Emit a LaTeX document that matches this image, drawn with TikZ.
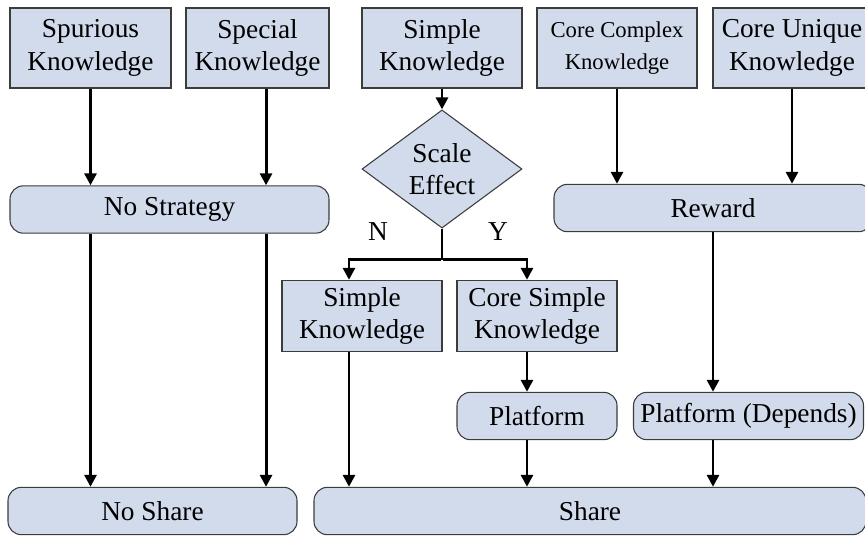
\documentclass[tikz,border=0pt]{standalone}
\usepackage{fontspec}
\setmainfont{Liberation Serif}
\usetikzlibrary{shapes.geometric,arrows.meta}
\definecolor{relleno}{RGB}{209,219,236}
\definecolor{borde}{RGB}{60,60,60}
\tikzset{
    caja/.style={draw=borde,fill=relleno,line width=.8pt,align=center,
        inner sep=0pt,minimum height=60pt},
    redondeada/.style={caja,rounded corners=10pt,minimum height=35.5pt},
    rombo/.style={caja,diamond,minimum width=120pt,minimum height=70.5pt},
    flecha/.style={line width=2.2pt,-{Triangle[length=9pt,width=9pt]}},
    linea/.style={line width=2.2pt}
}
\begin{document}
\begin{tikzpicture}[x=.75pt,y=-.75pt,
    every node/.style={font=\fontsize{20.5}{24.5}\selectfont}]
    \useasboundingbox (0,0) rectangle (865,536);
    % Fila superior: tipos de conocimiento.
    \node[caja,minimum width=120.75pt] (esp) at (90.5,48) {Spurious\\Knowledge};
    \node[caja,minimum width=107.25pt] (espe) at (257.5,48) {Special\\Knowledge};
    \node[caja,minimum width=120pt] (sim) at (442,48) {Simple\\Knowledge};
    \node[caja,minimum width=120pt,font=\fontsize{17}{24.5}\selectfont] (cc) at (617,48)
        {Core Complex\\Knowledge};
    \node[caja,minimum width=118.5pt] (cu) at (792,48) {Core Unique\\Knowledge};

    % Estrategias y decisión por efecto de escala.
    \node[redondeada,minimum width=239.25pt] (noest) at (169.5,209.5) {No Strategy};
    \node[rombo] (esc) at (442,169) {Scale\\Effect};
    \node[redondeada,minimum width=238.5pt] (rec) at (713,208) {Reward};
    \node (n) at (378,232) {N};
    \node (y) at (498,232) {Y};

    \node[caja,minimum width=120pt,minimum height=53.5pt] (sim2) at (362,316) {Simple\\Knowledge};
    \node[caja,minimum width=120pt,minimum height=53.5pt] (cs) at (537,316) {Core Simple\\Knowledge};
    \node[redondeada,minimum width=120pt] (plat) at (537,416) {Platform};
    \node[redondeada,minimum width=172.5pt] (platd) at (748.5,416) {Platform (Depends)};

    % Resultado final.
    \node[redondeada,minimum width=216.75pt] (nocomp) at (152.5,511) {No Share};
    \node[redondeada,minimum width=414pt] (comp) at (590,511) {Share};

    % Conexiones.
    \draw[flecha] (esp.south) -- (esp.south |- noest.north);
    \draw[flecha] ([xshift=6.4pt]espe.south) -- ([xshift=6.4pt]espe.south |- noest.north);
    \draw[flecha] (cc.south) -- (cc.south |- rec.north);
    \draw[flecha] (cu.south) -- (cu.south |- rec.north);
    \draw[flecha] (sim.south) -- (esc.north);
    \draw[flecha] (noest.south -| esp.south) -- (nocomp.north -| esp.south);
    \draw[flecha] ([xshift=6.4pt]noest.south -| espe.south) -- ([xshift=6.4pt]nocomp.north -| espe.south);
    \draw[linea] (esc.south) -- ++(0,31) coordinate (bif);
    \draw[flecha] ([xshift=-1.1pt]bif) -| ([xshift=-9.75pt]sim2.north);
    \draw[flecha] ([xshift=1.1pt]bif) -| ([xshift=-7.5pt]cs.north);
    \draw[flecha] ([xshift=-9.75pt]sim2.south) -- ([xshift=-9.75pt]sim2.south |- comp.north);
    \draw[flecha] ([xshift=-7.5pt]cs.south) -- ([xshift=-7.5pt]cs.south |- plat.north);
    \draw[flecha] ([xshift=-7.5pt]plat.south) -- ([xshift=-7.5pt]plat.south |- comp.north);
    \draw[flecha] (rec.south) -- (rec.south |- platd.north);
    \draw[flecha] (platd.south -| rec.south) -- (comp.north -| rec.south);
\end{tikzpicture}
\end{document}
